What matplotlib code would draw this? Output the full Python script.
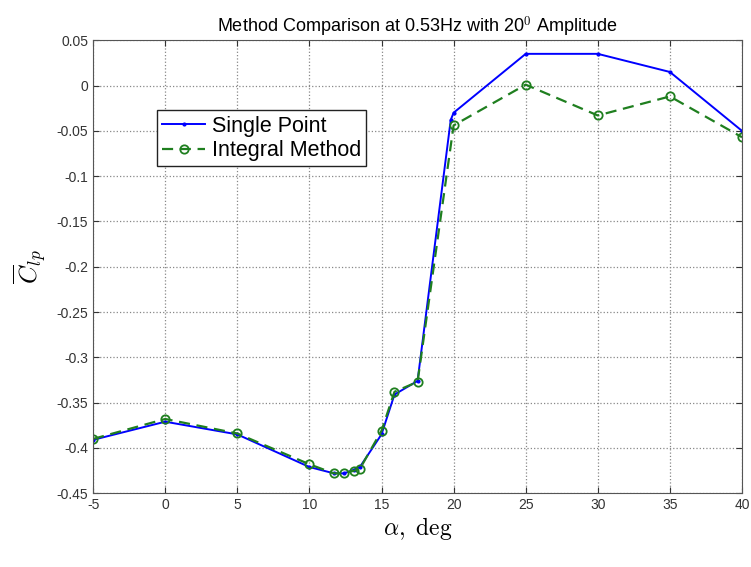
# Method comparison: Single Point vs Integral Method (mean Clp vs alpha)

import matplotlib
matplotlib.use("Agg")
import matplotlib.pyplot as plt

plt.rcParams['font.family'] = ['Liberation Sans', 'DejaVu Sans']
plt.rcParams['mathtext.fontset'] = 'cm'

# data
alpha_single = [-5, 0, 5, 10, 11.7, 12.4, 13.1, 13.5, 15, 15.9, 17.5, 19.8, 20, 25, 30, 35, 40]
clp_single = [-0.391, -0.371, -0.385, -0.421, -0.428, -0.428, -0.424, -0.421, -0.385,
              -0.341, -0.326, -0.038, -0.030, 0.035, 0.035, 0.015, -0.050]

alpha_integral = [-5, 0, 5, 10, 11.7, 12.4, 13.1, 13.5, 15, 15.9, 17.5, 20, 25, 30, 35, 40]
clp_integral = [-0.390, -0.368, -0.384, -0.418, -0.428, -0.428, -0.425, -0.423, -0.381,
                -0.338, -0.327, -0.044, 0.001, -0.033, -0.012, -0.057]

x_ticks = [-5, 0, 5, 10, 15, 20, 25, 30, 35, 40]
y_ticks = [0.05, 0, -0.05, -0.1, -0.15, -0.2, -0.25, -0.3, -0.35, -0.4, -0.45]

fig = plt.figure(figsize=(7.51, 5.67), dpi=100)
ax = fig.add_axes([0.124, 0.130, 0.864, 0.799])

ax.plot(alpha_single, clp_single, color='#0000ff', marker='.', markersize=4,
        linewidth=1.4, label='Single Point')
ax.plot(alpha_integral, clp_integral, color='#1f7f1f', linestyle='--', marker='o',
        markersize=6, markerfacecolor='none', markeredgewidth=1.3,
        linewidth=1.6, dashes=(5, 3), label='Integral Method')

ax.set_xlim(-5, 40)
ax.set_ylim(-0.45, 0.05)
ax.set_xticks(x_ticks)
ax.set_xticklabels([str(t) for t in x_ticks])
ax.set_yticks(y_ticks)
ax.set_yticklabels(['0.05', '0', '-0.05', '-0.1', '-0.15', '-0.2', '-0.25',
                    '-0.3', '-0.35', '-0.4', '-0.45'])
ax.tick_params(direction='in', top=True, right=True, labelsize=10,
               colors='#333333', length=4)
for s in ax.spines.values():
    s.set_color('#555555')
ax.grid(True, linestyle=':', color='#888888', linewidth=0.9)

ax.set_title('Method Comparison at 0.53Hz with 20$^{0}$ Amplitude', fontsize=13, pad=6)
ax.set_xlabel(r'$\alpha,\ \mathrm{deg}$', fontsize=17, labelpad=2)
ax.set_ylabel(r'$\overline{C}_{lp}$', fontsize=18, labelpad=6)

leg = ax.legend(loc='upper left', bbox_to_anchor=(0.098, 0.845), fontsize=15.5,
                fancybox=False, framealpha=1, edgecolor='#222222', borderaxespad=0,
                handlelength=2.0, handletextpad=0.3, borderpad=0.25, labelspacing=0.15)
leg.get_frame().set_linewidth(1.0)

plt.savefig('out.png', dpi=100)
